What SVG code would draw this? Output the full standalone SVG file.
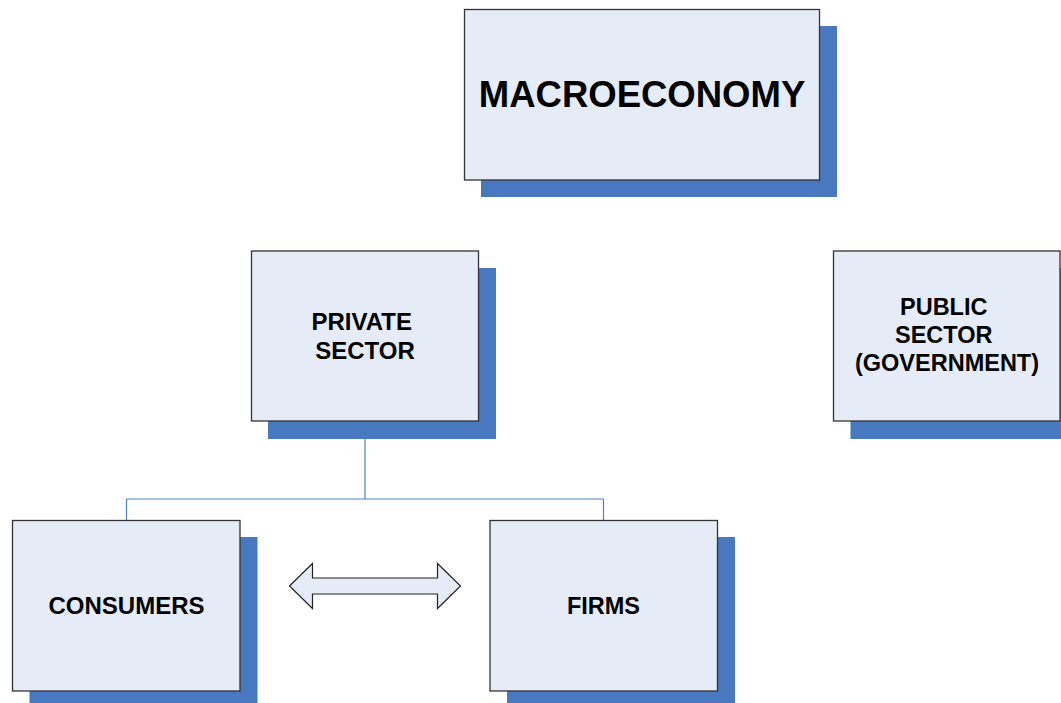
<svg xmlns="http://www.w3.org/2000/svg" width="1061" height="703" viewBox="0 0 1061 703">
  <style>
    .shadow { fill: #4878C0; }
    .box { fill: #E6ECF7; stroke: #333333; stroke-width: 1.3; }
    .label { font-family: "Liberation Sans", Arial, sans-serif; font-weight: bold; fill: #000000; text-anchor: middle; }
    .link { fill: none; stroke: #4F81C7; stroke-width: 1.2; }
    .dbl { fill: #E6ECF7; stroke: #222222; stroke-width: 1.2; stroke-linejoin: miter; }
  </style>
  <rect width="1061" height="703" fill="#FFFFFF"/>

  <!-- tree connectors -->
  <g id="connectors">
    <path class="link" d="M365,421 V499 M126.5,499 H603.5 M126.5,499 V520 M603.5,499 V520"/>
    <path class="dbl" d="M289.5,586 L312.5,563.5 V578 H437.5 V563.5 L460.5,586 L437.5,608.5 V594 H312.5 V608.5 Z"/>
  </g>

  <g id="macroeconomy">
    <rect class="shadow" x="481" y="26" width="356" height="171"/>
    <rect class="box" x="464.5" y="9.5" width="355" height="170.5"/>
    <text class="label" x="642" y="106.5" font-size="36.5">MACROECONOMY</text>
  </g>

  <g id="private-sector">
    <rect class="shadow" x="268" y="268" width="228" height="171"/>
    <rect class="box" x="251.5" y="251" width="227" height="170"/>
    <text class="label" font-size="24">
      <tspan x="365" y="330">PRIVATE</tspan>
      <tspan x="365" y="359">SECTOR</tspan>
    </text>
  </g>

  <g id="public-sector">
    <rect class="shadow" x="850.5" y="268" width="228" height="171"/>
    <rect class="box" x="833.5" y="251" width="226.5" height="170"/>
    <text class="label" font-size="23.5">
      <tspan x="947" y="315">PUBLIC</tspan>
      <tspan x="947" y="343">SECTOR</tspan>
      <tspan x="947" y="371">(GOVERNMENT)</tspan>
    </text>
  </g>

  <g id="consumers">
    <rect class="shadow" x="29.5" y="537" width="228" height="171"/>
    <rect class="box" x="12.5" y="520.5" width="227.5" height="170.5"/>
    <text class="label" x="126.5" y="613.5" font-size="24">CONSUMERS</text>
  </g>

  <g id="firms">
    <rect class="shadow" x="507" y="537" width="228" height="171"/>
    <rect class="box" x="490" y="520.5" width="227.5" height="170.5"/>
    <text class="label" x="603.5" y="613.5" font-size="23.5">FIRMS</text>
  </g>
</svg>
